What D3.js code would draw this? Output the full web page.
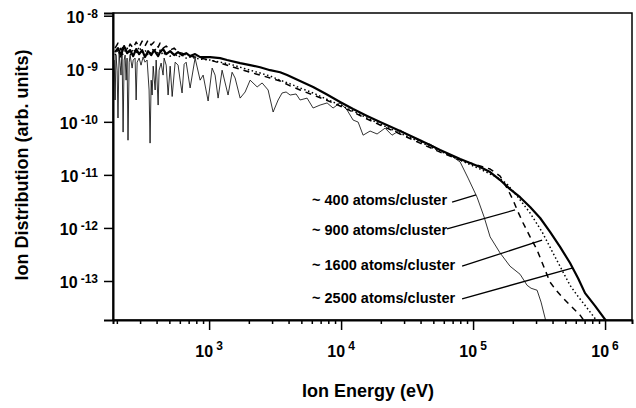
<!DOCTYPE html>
<html>
<head>
<meta charset="utf-8">
<script src="https://cdn.jsdelivr.net/npm/d3@7"></script>
<style>
  html, body { margin: 0; padding: 0; background: #fff; }
  svg { display: block; font-family: "Liberation Sans", Arial, sans-serif; }
</style>
</head>
<body>
<svg id="chart" width="636" height="408"></svg>
<script>
// Ion energy distributions for different cluster sizes (log-log)

const energy400 = [191,194,197,201,204,208,212,215,219,223,227,231,235,239,243,248,252,261,266,275,280,285,295,305,316,327,339,351,357,364,370,377,390,397,411,418,433,448,456,473,489,507,525,553,582,603,624,647,670,718,783,855,901,983,1054,1110,1170,1254,1392,1493,1574,1718,1875,2046,2312,2522,2800,3055,3334,3574,3832,4111,4561,4890,5524,6137,6935,7834,8694,9826,11100,12330,13460,14680,16590,18740,21530,24320,27990,33340,39630,47210,56230,66980,79800,91650,107200,121200,134600,160300,190500,227000,256600,275000,305500,327400,357500];
const dist400 = [1.46e-9,2.58e-10,1.81e-9,9.4e-10,1.18e-10,2.06e-9,1.17e-9,7.6e-10,2.25e-9,6.4e-11,1.46e-9,1.81e-9,6.1e-10,1.59e-9,4.5e-11,1.33e-9,1.81e-9,1.03e-9,1.46e-9,1.59e-9,2.58e-10,1.33e-9,1.59e-9,1.17e-9,1.66e-9,1.33e-9,1.46e-9,3.98e-10,3.97e-11,6.1e-10,3.2e-10,1.12e-9,3.98e-10,1.46e-9,2.07e-10,9.4e-10,1.28e-9,7.6e-10,1.59e-9,1.17e-9,3.2e-10,1.12e-9,3.0e-10,1.33e-9,1.17e-9,6.1e-10,3.5e-10,1.22e-9,1.33e-9,4.35e-10,1.59e-9,6.1e-10,7.6e-10,2.47e-10,1.03e-9,7.6e-10,2.8e-10,9.4e-10,3.2e-10,8.6e-10,6.7e-10,2.8e-10,3.65e-10,6.1e-10,4.55e-10,5.4e-10,3.98e-10,1.53e-10,2.58e-10,3.5e-10,3.65e-10,3.2e-10,3.35e-10,2.58e-10,2.8e-10,1.82e-10,2.07e-10,2.27e-10,1.82e-10,2.27e-10,1.67e-10,1.08e-10,9.9e-11,5.6e-11,6.7e-11,5.9e-11,7.6e-11,5.6e-11,7.0e-11,5.4e-11,4.3e-11,3.8e-11,2.94e-11,2.37e-11,1.75e-11,8.7e-12,3.8e-12,1.61e-12,6.8e-13,3.37e-13,1.9e-13,1.34e-13,8.3e-14,7.3e-14,6.7e-14,4.0e-14,1.68e-14];

const energy900 = [194,204,215,227,239,252,266,280,295,311,327,345,364,383,411,425,448,473,507,543,582,624,670,718,855,1018,1211,1442,1718,2046,2434,2899,3452,4111,4890,6137,7697,9826,12330,15740,19730,27990,39630,56230,79800,94900,113000,134600,160300,181100,200900,219200,239300,270400,305500,339300,383000,425500,472300,543000,647000,705400];
const dist900 = [2.45e-9,3.05e-9,2.25e-9,2.8e-9,2.06e-9,2.92e-9,2.45e-9,3.19e-9,2.56e-9,3.33e-9,2.68e-9,3.48e-9,2.8e-9,3.19e-9,2.56e-9,3.05e-9,2.45e-9,2.68e-9,2.25e-9,2.45e-9,2.06e-9,1.97e-9,1.81e-9,1.73e-9,1.59e-9,1.46e-9,1.28e-9,1.12e-9,9.8e-10,8.6e-10,7.6e-10,6.7e-10,5.9e-10,4.75e-10,3.98e-10,3.2e-10,2.58e-10,1.99e-10,1.53e-10,1.13e-10,8.7e-11,5.9e-11,3.97e-11,2.69e-11,1.9e-11,1.67e-11,1.47e-11,1.29e-11,9.5e-12,5.6e-12,3.36e-12,2.0e-12,1.24e-12,6.8e-13,3.84e-13,2.0e-13,9.5e-14,6.7e-14,5.0e-14,3.5e-14,2.27e-14,1.68e-14];

const energy1600 = [194,204,215,227,239,252,266,280,295,311,327,345,364,383,411,425,448,473,507,543,582,624,670,718,855,1018,1211,1442,1718,2046,2434,2899,3452,4111,4890,6137,7697,9826,12330,15740,19730,27990,39630,56230,79800,113000,134600,160300,181100,219200,270400,333500,403500,480600,543000,613800,730600,869400];
const dist1600 = [1.81e-9,2.25e-9,1.66e-9,2.06e-9,2.45e-9,1.81e-9,2.35e-9,1.97e-9,2.56e-9,2.06e-9,2.25e-9,1.81e-9,2.06e-9,2.45e-9,1.97e-9,2.25e-9,1.81e-9,2.06e-9,1.73e-9,1.97e-9,1.66e-9,1.81e-9,1.59e-9,1.66e-9,1.52e-9,1.46e-9,1.33e-9,1.22e-9,1.07e-9,9.4e-10,8.3e-10,7.3e-10,6.1e-10,5.2e-10,4.35e-10,3.5e-10,2.7e-10,2.07e-10,1.6e-10,1.18e-10,9.1e-11,6.1e-11,4.15e-11,2.81e-11,1.9e-11,1.29e-11,1.04e-11,8.4e-12,6.7e-12,3.8e-12,1.91e-12,8.4e-13,3.37e-13,1.47e-13,8.3e-14,5.4e-14,3.1e-14,1.75e-14];

const energy2500 = [194,204,215,227,239,252,266,280,295,311,327,345,364,383,411,425,448,473,507,543,582,624,670,718,783,855,1018,1211,1368,1718,2046,2434,2899,3452,3899,4890,6137,7697,9826,12330,15740,19730,27990,39630,56230,79800,113000,134600,160300,190500,227000,270400,322100,383000,456000,543000,624600,705400,839700,1035000];
const dist2500 = [2.06e-9,2.45e-9,1.81e-9,2.68e-9,1.97e-9,2.25e-9,1.73e-9,2.35e-9,1.89e-9,2.25e-9,1.66e-9,2.15e-9,1.81e-9,2.25e-9,1.73e-9,2.06e-9,2.35e-9,1.89e-9,2.15e-9,1.81e-9,2.06e-9,1.81e-9,1.97e-9,1.73e-9,1.89e-9,1.66e-9,1.66e-9,1.59e-9,1.46e-9,1.28e-9,1.17e-9,1.07e-9,9.4e-10,8.6e-10,7.6e-10,5.9e-10,4.55e-10,3.35e-10,2.37e-10,1.74e-10,1.29e-10,9.9e-11,6.7e-11,4.5e-11,2.94e-11,1.99e-11,1.41e-11,1.13e-11,8.0e-12,5.4e-12,3.8e-12,2.48e-12,1.54e-12,8.4e-13,4.4e-13,2.18e-13,1.13e-13,5.9e-14,3.4e-14,1.68e-14];

// axis ticks
const yTickValues = [1e-8, 1e-9, 1e-10, 1e-11, 1e-12, 1e-13];
const yTickExponents = ["-8", "-9", "-10", "-11", "-12", "-13"];
const xMajorValues = [1e3, 1e4, 1e5, 1e6];
const xTickExponents = ["3", "4", "5", "6"];

// callout labels: text anchor and leader line (from -> tip) in data coordinates
const callouts = [
  { text: "~ 400 atoms/cluster",  textE: 6026, textV: 2.7e-12,  fromE: 69340, fromV: 3.08e-12, tipE: 105400, tipV: 4.2e-12 },
  { text: "~ 900 atoms/cluster",  textE: 6026, textV: 7.4e-13,  fromE: 63540, fromV: 9.6e-13,  tipE: 208000, tipV: 2.18e-12 },
  { text: "~ 1600 atoms/cluster", textE: 6026, textV: 1.6e-13,  fromE: 82600, fromV: 1.9e-13,  tipE: 333500, tipV: 5.9e-13 },
  { text: "~ 2500 atoms/cluster", textE: 6026, textV: 3.8e-14,  fromE: 82600, fromV: 4.6e-14,  tipE: 562300, tipV: 1.75e-13 }
];

const series = [
  { energy: energy400,  dist: dist400,  width: 0.8, dash: null },
  { energy: energy900,  dist: dist900,  width: 1.5, dash: "6,5" },
  { energy: energy1600, dist: dist1600, width: 1.5, dash: "1.5,2.5" },
  { energy: energy2500, dist: dist2500, width: 2.2, dash: null }
];

const L = 113, R = 632, T = 13, B = 320;
const svg = d3.select("#chart");

const x = d3.scaleLog().domain([187, 1.6e6]).range([L, R]);
const y = d3.scaleLog().domain([1.84e-14, 1.125e-8]).range([B, T]);

svg.append("defs").append("clipPath").attr("id", "plot")
  .append("rect").attr("x", L).attr("y", T).attr("width", R - L).attr("height", B - T);

// curves
const line = d3.line().x(d => x(d[0])).y(d => y(d[1]));
const g = svg.append("g").attr("clip-path", "url(#plot)");
series.forEach(s => {
  const pts = s.energy.map((e, i) => [e, s.dist[i]]);
  g.append("path")
    .attr("d", line(pts))
    .attr("fill", "none")
    .attr("stroke", "#000")
    .attr("stroke-width", s.width)
    .attr("stroke-linejoin", "round")
    .attr("stroke-dasharray", s.dash);
});

// frame
svg.append("rect").attr("x", L).attr("y", T).attr("width", R - L).attr("height", B - T)
  .attr("fill", "none").attr("stroke", "#000").attr("stroke-width", 1.5);

// x axis: minor ticks for every 2..9 multiple, long ticks at decades
const xTicks = [];
for (let d = 100; d <= 1e6; d *= 10) {
  for (let m = 1; m <= 9; m++) {
    const v = d * m;
    if (v >= 187 && v <= 1.6e6) xTicks.push(v);
  }
}
const xAxis = svg.append("g").attr("transform", `translate(0,${B})`)
  .call(d3.axisBottom(x).tickValues(xTicks).tickSize(4).tickFormat(""));
xAxis.select(".domain").attr("stroke-width", 2);
xAxis.selectAll(".tick line")
  .attr("stroke-width", 1.5)
  .attr("y2", d => xMajorValues.includes(d) ? 10 : 4);

// y axis
const yAxis = svg.append("g").attr("transform", `translate(${L},0)`)
  .call(d3.axisLeft(y).tickValues(yTickValues).tickSize(9).tickFormat(""));
yAxis.select(".domain").attr("stroke-width", 2);
yAxis.selectAll(".tick line").attr("stroke-width", 1.5);

// x tick labels  10^n
xMajorValues.forEach((v, i) => {
  const t = svg.append("text")
    .attr("x", x(v)).attr("y", 357)
    .attr("text-anchor", "middle")
    .attr("font-weight", "bold").attr("font-size", 16);
  t.append("tspan").text("10");
  t.append("tspan").attr("dx", 3).attr("dy", -7).attr("font-size", 12).text(xTickExponents[i]);
});

// y tick labels  10^-n
yTickValues.forEach((v, i) => {
  const t = svg.append("text")
    .attr("x", 98).attr("y", y(v) + 7)
    .attr("text-anchor", "end")
    .attr("font-weight", "bold").attr("font-size", 16);
  t.append("tspan").text("10");
  t.append("tspan").attr("dx", 3).attr("dy", -5).attr("font-size", 12).text(yTickExponents[i]);
});

// axis titles
svg.append("text")
  .attr("x", 368).attr("y", 397)
  .attr("text-anchor", "middle")
  .attr("font-weight", "bold").attr("font-size", 18)
  .text("Ion Energy (eV)");

svg.append("text")
  .attr("transform", "translate(28,165) rotate(-90)")
  .attr("text-anchor", "middle")
  .attr("font-weight", "bold").attr("font-size", 18)
  .text("Ion Distribution (arb. units)");

// callouts
callouts.forEach(c => {
  svg.append("text")
    .attr("x", x(c.textE)).attr("y", y(c.textV))
    .attr("font-weight", "bold").attr("font-size", 14.5)
    .text(c.text);
  svg.append("line")
    .attr("x1", x(c.fromE)).attr("y1", y(c.fromV))
    .attr("x2", x(c.tipE)).attr("y2", y(c.tipV))
    .attr("stroke", "#000").attr("stroke-width", 1.3);
});
</script>
</body>
</html>
